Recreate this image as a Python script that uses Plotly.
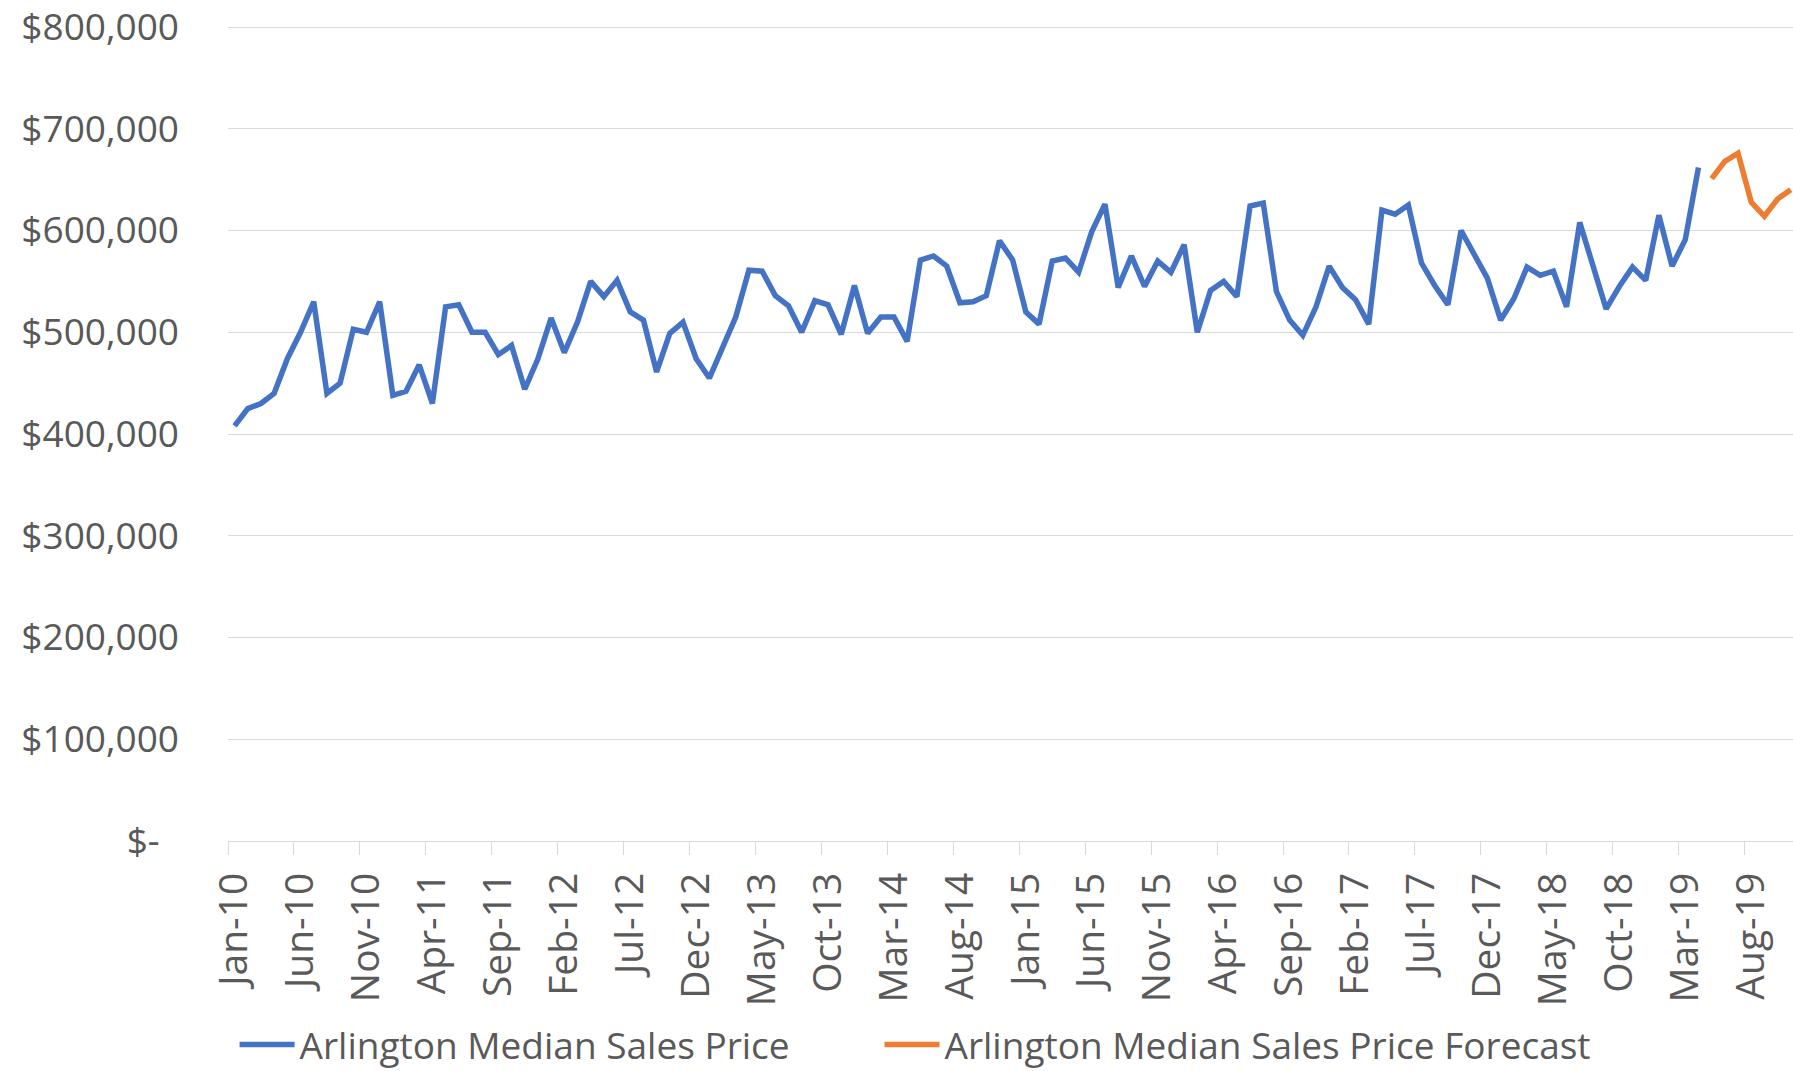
import plotly.graph_objects as go
import pandas as pd

# ---------------- data ----------------
# monthly categories Jan-10 .. Nov-19
months = pd.date_range("2010-01-01", "2019-11-01", freq="MS").strftime("%b-%y").tolist()

# Arlington median sales price, Jan-10 .. Apr-19 (in $)
actual = [
    408000, 425000, 430000, 440000, 474000, 500000, 530000, 440000, 450000, 503000, 500000, 530000,
    438000, 442000, 468000, 430000, 525000, 527000, 500000, 500000, 478000, 487000, 444000, 474000,
    514000, 480000, 510000, 550000, 535000, 551000, 520000, 512000, 461000, 499000, 510000, 474000,
    455000, 484000, 515000, 561000, 560000, 536000, 526000, 500000, 531000, 527000, 498000, 546000,
    499000, 515000, 515000, 491000, 571000, 575000, 565000, 529000, 530000, 536000, 590000, 571000,
    520000, 508000, 570000, 573000, 559000, 599000, 626000, 544000, 575000, 545000, 570000, 559000,
    586000, 500000, 541000, 550000, 535000, 624000, 627000, 540000, 512000, 497000, 525000, 565000,
    544000, 532000, 508000, 620000, 616000, 625000, 568000, 546000, 527000, 600000, 576000, 553000,
    512000, 533000, 564000, 556000, 560000, 525000, 608000, 564000, 523000, 545000, 564000, 551000,
    615000, 565000, 591000, 662000,
]
# forecast, May-19 .. Nov-19 (in $)
forecast = [651000, 668000, 676000, 628000, 614000, 631000, 640000]

series_names = ["Arlington Median Sales Price", "Arlington Median Sales Price Forecast"]

# tick labels
label_step = 5
x_tick_idx = list(range(0, len(months), label_step))
x_tick_text = [months[i] for i in x_tick_idx]

y_tick_vals = [0, 100000, 200000, 300000, 400000, 500000, 600000, 700000, 800000]
y_tick_text = ["$-\u00a0\u00a0", "$100,000", "$200,000", "$300,000", "$400,000",
               "$500,000", "$600,000", "$700,000", "$800,000"]

# ---------------- figure ----------------
x_all = list(range(len(months)))
n_act = len(actual)

BLUE = "#4472C4"
ORANGE = "#ED7D31"
GRID = "#D9D9D9"
TXT = "#595959"
FONT = "Open Sans"
FS = 37

fig = go.Figure()
fig.add_trace(go.Scatter(x=x_all[:n_act], y=actual, mode="lines", name=series_names[0],
                         line=dict(color=BLUE, width=5.5), legend="legend"))
fig.add_trace(go.Scatter(x=x_all[n_act:n_act + len(forecast)], y=forecast, mode="lines",
                         name=series_names[1], line=dict(color=ORANGE, width=5.5),
                         legend="legend2"))

legend_common = dict(orientation="h", xanchor="left", y=-0.25, yanchor="middle",
                     font=dict(family=FONT, size=FS, color=TXT), itemwidth=55,
                     bgcolor="rgba(0,0,0,0)")

fig.update_layout(
    width=1793, height=1071,
    margin=dict(l=228, r=0, t=25, b=230, pad=0, autoexpand=False),
    plot_bgcolor="white", paper_bgcolor="white",
    font=dict(family=FONT, size=FS, color=TXT),
    showlegend=True,
    legend=dict(x=0.0042, **legend_common),
    legend2=dict(x=0.4163, **legend_common),
    xaxis=dict(
        range=[-0.5, 118.17],
        tickmode="array", tickvals=x_tick_idx, ticktext=x_tick_text,
        tickangle=-90, ticks="", showgrid=False, zeroline=False,
        showline=True, linecolor=GRID, linewidth=1.3,
        ticklabelstandoff=15,
        tickfont=dict(family=FONT, size=39, color=TXT),
        minor=dict(tickmode="array", tickvals=[i - 0.5 for i in x_tick_idx],
                   ticks="outside", ticklen=13, tickcolor=GRID, tickwidth=1.3, showgrid=False),
    ),
    yaxis=dict(
        range=[0, 802000],
        tickmode="array", tickvals=y_tick_vals, ticktext=y_tick_text,
        ticks="", showgrid=True, gridcolor=GRID, gridwidth=1.3, zeroline=False,
        showline=False, ticklabelstandoff=48, ticklabeloverflow="allow",
        tickfont=dict(family=FONT, size=FS, color=TXT),
    ),
)

fig.write_html("out.html", config={"displayModeBar": False},
               post_script="document.body.style.margin='0';document.body.style.overflow='hidden';")
